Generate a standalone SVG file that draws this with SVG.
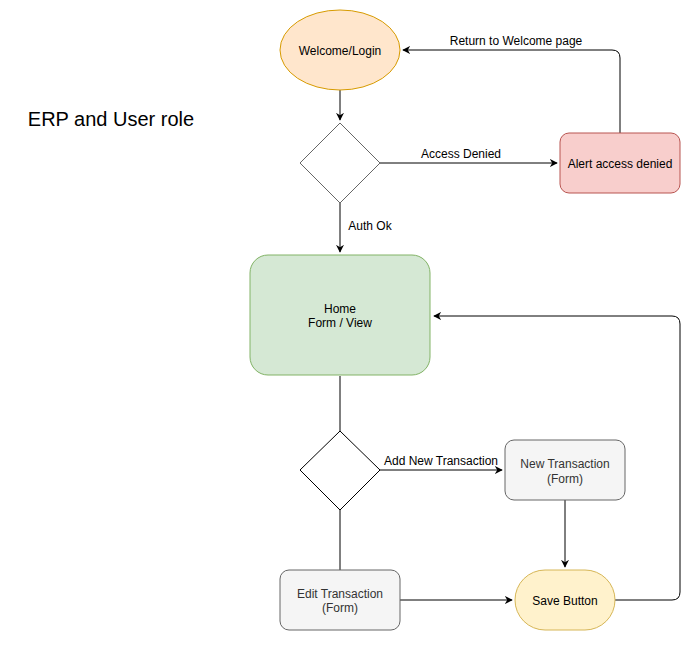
<svg xmlns="http://www.w3.org/2000/svg" width="699" height="649" viewBox="0 0 699 649">
<style>
text{font-family:"Liberation Sans",Arial,sans-serif;font-size:12px;fill:#000;text-anchor:middle}
.e{stroke:#000;stroke-width:1;fill:none}
.g text{fill:#333}
</style>
<defs>
<marker id="a" viewBox="0 0 10 10" refX="9" refY="5" markerWidth="8" markerHeight="8" markerUnits="userSpaceOnUse" orient="auto">
<path d="M0,0 L10,5 L0,10 L3,5 Z" fill="#000"/>
</marker>
</defs>
<rect width="699" height="649" fill="#fff"/>
<text x="111" y="126" style="font-size:20px;text-anchor:middle">ERP and User role</text>
<g id="connectors">
<path class="e" d="M340,90 V120" marker-end="url(#a)"/>
<path class="e" d="M380,163 H557" marker-end="url(#a)"/>
<path class="e" d="M620,133 V58 Q620,50 612,50 H403" marker-end="url(#a)"/>
<path class="e" d="M340,203 V252" marker-end="url(#a)"/>
<path class="e" d="M340,376 V431"/>
<path class="e" d="M380,470 H502" marker-end="url(#a)"/>
<path class="e" d="M565,500 V567" marker-end="url(#a)"/>
<path class="e" d="M340,510 V570"/>
<path class="e" d="M400,600 H512" marker-end="url(#a)"/>
<path class="e" d="M615,600 H672 Q680,600 680,592 V324 Q680,316 672,316 H434" marker-end="url(#a)"/>
<text x="516" y="45">Return to Welcome page</text>
<text x="461" y="158">Access Denied</text>
<text x="370" y="230">Auth Ok</text>
<text x="441" y="465">Add New Transaction</text>
</g>
<g id="welcome">
<ellipse cx="340" cy="50" rx="60" ry="40" fill="#ffe6cc" stroke="#d79b00"/>
<text x="340" y="55">Welcome/Login</text>
</g>
<g id="decision1">
<path d="M340,123 L380,163 L340,203 L300,163 Z" fill="#fff" stroke="#666"/>
</g>
<g id="alert">
<rect x="560" y="133" width="120" height="60" rx="9" fill="#f8cecc" stroke="#b85450"/>
<text x="620" y="168">Alert access denied</text>
</g>
<g id="home">
<rect x="250" y="255" width="180" height="120" rx="18" fill="#d5e8d4" stroke="#82b366"/>
<text x="340" y="313">Home</text>
<text x="340" y="327">Form / View</text>
</g>
<g id="decision2">
<path d="M340,431 L380,470 L340,510 L300,470 Z" fill="#fff" stroke="#000"/>
</g>
<g id="newtx" class="g">
<rect x="505" y="440" width="120" height="60" rx="9" fill="#f5f5f5" stroke="#666"/>
<text x="565" y="468">New Transaction</text>
<text x="565" y="483">(Form)</text>
</g>
<g id="edittx" class="g">
<rect x="280" y="570" width="120" height="60" rx="9" fill="#f5f5f5" stroke="#666"/>
<text x="340" y="598">Edit Transaction</text>
<text x="340" y="612">(Form)</text>
</g>
<g id="save">
<rect x="515" y="570" width="100" height="60" rx="30" fill="#fff2cc" stroke="#d6b656"/>
<text x="565" y="605">Save Button</text>
</g>
</svg>
